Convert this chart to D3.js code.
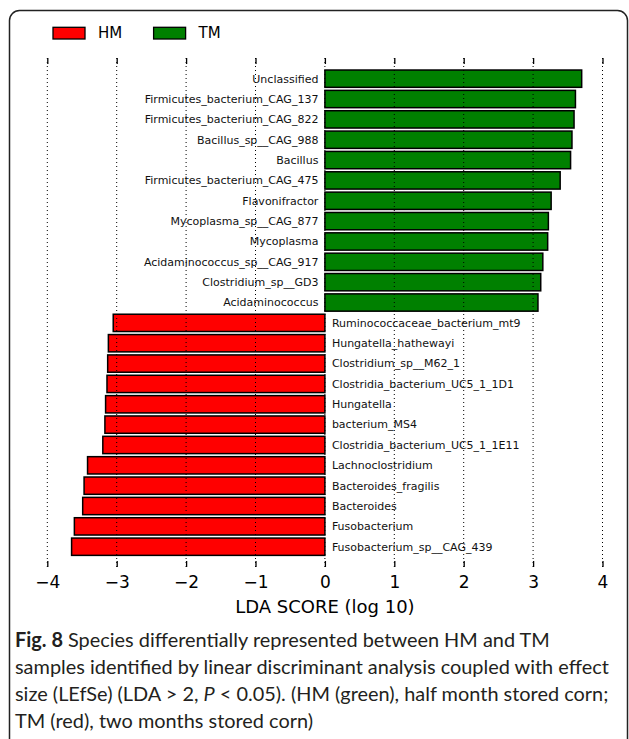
<!DOCTYPE html>
<html>
<head>
<meta charset="utf-8">
<script src="https://cdn.jsdelivr.net/npm/d3@7"></script>
<style>
body { margin: 0; background: #fff; }
</style>
</head>
<body>
<script>
// LEfSe result, top to bottom
var species = [
    "Unclassified", "Firmicutes_bacterium_CAG_137", "Firmicutes_bacterium_CAG_822",
    "Bacillus_sp__CAG_988", "Bacillus", "Firmicutes_bacterium_CAG_475",
    "Flavonifractor", "Mycoplasma_sp__CAG_877", "Mycoplasma",
    "Acidaminococcus_sp__CAG_917", "Clostridium_sp__GD3", "Acidaminococcus",
    "Ruminococcaceae_bacterium_mt9", "Hungatella_hathewayi", "Clostridium_sp__M62_1",
    "Clostridia_bacterium_UC5_1_1D1", "Hungatella", "bacterium_MS4",
    "Clostridia_bacterium_UC5_1_1E11", "Lachnoclostridium", "Bacteroides_fragilis",
    "Bacteroides", "Fusobacterium", "Fusobacterium_sp__CAG_439"
];
var lda = [
    3.70, 3.61, 3.59, 3.56, 3.54, 3.39, 3.26, 3.22, 3.21, 3.14, 3.11, 3.07,
    -3.05, -3.12, -3.13, -3.14, -3.16, -3.17, -3.20, -3.42, -3.47, -3.49, -3.61, -3.65
];
var groups = ["HM", "TM"];
var group_colors = ["#ff0000", "#008000"];
var ticks = [-4, -3, -2, -1, 0, 1, 2, 3, 4];

var width = 629, height = 739;
var top_y = 58, bottom_y = 567;

var svg = d3.select("body").append("svg")
    .attr("width", width).attr("height", height);

// frame round the figure
svg.append("rect")
    .attr("x", 9.5).attr("y", 10.5)
    .attr("width", 618).attr("height", 780)
    .attr("rx", 10)
    .attr("fill", "none")
    .attr("stroke", "#222")
    .attr("stroke-width", 1.5);

var x = d3.scaleLinear().domain([-4, 4]).range([47.3, 602.5]);
var y = d3.scaleBand().domain(species).range([68.5, 556.9]).paddingInner(0.15).paddingOuter(0.075);

function bar_color(d) {
    return d < 0 ? group_colors[0] : group_colors[1];
}

// bars
svg.selectAll("rect.bar")
    .data(lda)
    .enter()
    .append("rect")
    .attr("class", "bar")
    .attr("x", function(d) { return x(Math.min(0, d)); })
    .attr("y", function(d, i) { return y(species[i]); })
    .attr("width", function(d) { return Math.abs(x(d) - x(0)); })
    .attr("height", y.bandwidth())
    .attr("fill", bar_color)
    .attr("stroke", "#000")
    .attr("stroke-width", 1.5);

// dotted grid on top of bars
svg.selectAll("line.grid")
    .data(ticks)
    .enter()
    .append("line")
    .attr("class", "grid")
    .attr("x1", x).attr("x2", x)
    .attr("y1", top_y).attr("y2", bottom_y)
    .attr("stroke", "#000")
    .attr("stroke-width", 1)
    .attr("stroke-dasharray", "1,3");

// axis ticks at top and bottom pointing inwards
var xTop = d3.axisTop(x).tickValues(ticks).tickSizeInner(-6).tickSizeOuter(0).tickFormat("");
var xBottom = d3.axisBottom(x).tickValues(ticks).tickSizeInner(-6).tickSizeOuter(0).tickPadding(9)
    .tickFormat(function(d) { return d < 0 ? "\u2212" + Math.abs(d) : d; });

var gt = svg.append("g").attr("transform", "translate(0," + top_y + ")").call(xTop);
gt.select(".domain").remove();
gt.selectAll(".tick line").attr("stroke", "#000").attr("stroke-width", 1.3);

var gb = svg.append("g").attr("transform", "translate(0," + bottom_y + ")").call(xBottom);
gb.select(".domain").remove();
gb.selectAll(".tick line").attr("stroke", "#000").attr("stroke-width", 1.3);
gb.selectAll(".tick text")
    .attr("font-family", "DejaVu Sans")
    .attr("font-size", "17px")
    .attr("fill", "#000");

// species labels
svg.selectAll("text.label")
    .data(lda)
    .enter()
    .append("text")
    .attr("class", "label")
    .attr("x", function(d) { return d < 0 ? x(0) + 7 : x(0) - 6.5; })
    .attr("y", function(d, i) { return y(species[i]) + y.bandwidth() / 2; })
    .attr("dy", "0.35em")
    .attr("text-anchor", function(d) { return d < 0 ? "start" : "end"; })
    .attr("font-family", "DejaVu Sans")
    .attr("font-size", "11px")
    .attr("fill", "#111")
    .text(function(d, i) { return species[i]; });

// axis title
svg.append("text")
    .attr("x", x(0)).attr("y", 613)
    .attr("text-anchor", "middle")
    .attr("font-family", "DejaVu Sans")
    .attr("font-size", "18px")
    .text("LDA SCORE (log 10)");

// legend
var legend_x = [53, 153.6];
groups.forEach(function(g, i) {
    svg.append("rect")
        .attr("x", legend_x[i]).attr("y", 27.3)
        .attr("width", 32).attr("height", 11.7)
        .attr("fill", group_colors[i])
        .attr("stroke", "#000")
        .attr("stroke-width", 1.3);
    svg.append("text")
        .attr("x", legend_x[i] + 45).attr("y", 33.2)
        .attr("dy", "0.35em")
        .attr("font-family", "DejaVu Sans")
        .attr("font-size", "15px")
        .text(g);
});

// caption
var cap = svg.append("g")
    .attr("font-family", "Lato")
    .attr("font-size", "18px")
    .attr("fill", "#231f20");
var line1 = cap.append("text").attr("x", 15).attr("y", 647);
line1.append("tspan").attr("font-weight", "bold").text("Fig. 8");
line1.append("tspan").text(" Species differentially represented between HM and TM");
var line2 = cap.append("text").attr("x", 15).attr("y", 674)
    .text("samples identified by linear discriminant analysis coupled with effect");
var line3 = cap.append("text").attr("x", 15).attr("y", 701);
line3.append("tspan").text("size (LEfSe) (LDA > 2, ");
line3.append("tspan").attr("font-style", "italic").text("P");
line3.append("tspan").text(" < 0.05). (HM (green), half month stored corn;");
cap.append("text").attr("x", 15).attr("y", 728)
    .text("TM (red), two months stored corn)");

// size the caption so the long line fills the frame like the original
var w2 = line2.node().getComputedTextLength();
cap.attr("font-size", (18 * 594 / w2) + "px");
</script>
</body>
</html>
